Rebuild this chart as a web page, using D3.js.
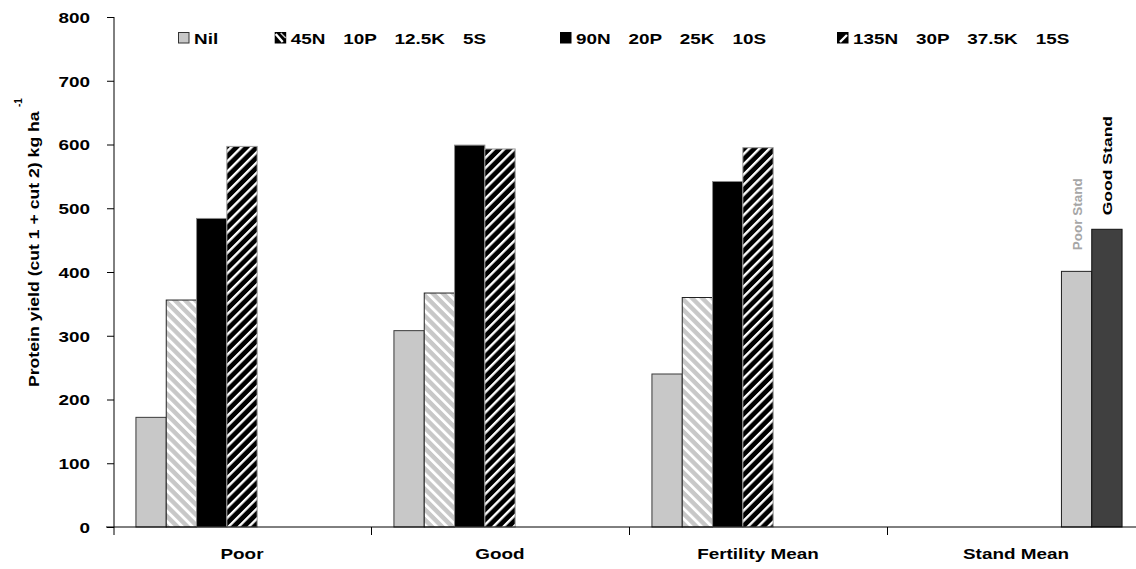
<!DOCTYPE html>
<html>
<head>
<meta charset="utf-8">
<script src="https://cdn.jsdelivr.net/npm/d3@7"></script>
<style>
  html, body { margin: 0; padding: 0; background: #ffffff; }
  svg { display: block; font-family: "Liberation Sans", Arial, sans-serif; }
  text { font-weight: bold; }
</style>
</head>
<body>
<svg id="chart" width="1136" height="569"></svg>
<script>
// ---------------- data ----------------
const categories = ["Poor", "Good", "Fertility Mean", "Stand Mean"];
const fertCategories = ["Poor", "Good", "Fertility Mean"];
const seriesNames = ["Nil", "45N 10P 12.5K 5S", "90N 20P 25K 10S", "135N 30P 37.5K 15S"];
const seriesKeys = ["nil", "n45", "n90", "n135"];
const nilValues = [172, 308, 240];
const n45Values = [356, 367, 360];
const n90Values = [484, 599, 542];
const n135Values = [597, 593, 595];
const standLabels = ["Poor Stand", "Good Stand"];
const standValues = [401, 467];
const yTicks = [0, 100, 200, 300, 400, 500, 600, 700, 800];
const yTitle = "Protein yield (cut 1 + cut 2) kg ha";
const yTitleSup = "-1";
// slots inside each category (Excel-style: 7 series, blanks left empty)
const slots = ["nil", "n45", "n90", "n135", "blank", "poorStand", "goodStand"];

// ---------------- layout ----------------
const svg = d3.select("#chart");
const W = 1136, H = 569;
const plotLeft = 113, bandW = 258;
const y0 = 527, yTop = 17;
const SX = 1.26; // horizontal stretch of the reference text
const FS = 15;

const x = d3.scaleBand().domain(categories).range([plotLeft, plotLeft + bandW * categories.length]).padding(0);
const xs = d3.scaleBand().domain(slots).range([0, x.bandwidth()]).paddingInner(0).paddingOuter(0.757);
const y = d3.scaleLinear().domain([0, 800]).range([y0, yTop]);

// ---------------- patterns ----------------
const defs = svg.append("defs");
function stripePattern(id, bg, fg, angle, period, stripe) {
  const p = defs.append("pattern").attr("id", id)
    .attr("patternUnits", "userSpaceOnUse")
    .attr("width", period).attr("height", period)
    .attr("patternTransform", `rotate(${angle})`);
  p.append("rect").attr("width", period).attr("height", period).attr("fill", bg);
  p.append("rect").attr("x", 0).attr("width", stripe).attr("height", period).attr("fill", fg);
}
stripePattern("pat45", "#c8c8c8", "#ffffff", -45, 7.2, 2.8);
stripePattern("pat135", "#000000", "#ffffff", 45, 7.2, 2.4);

const style = {
  nil: { fill: "#c8c8c8", stroke: "#3a3a3a" },
  n45: { fill: "url(#pat45)", stroke: "#222222" },
  n90: { fill: "#000000", stroke: "#8a8a8a" },
  n135: { fill: "url(#pat135)", stroke: "#9a9a9a" },
  poorStand: { fill: "#c8c8c8", stroke: "#222222" },
  goodStand: { fill: "#404040", stroke: "#111111" }
};

// ---------------- bars ----------------
const seriesValues = { nil: nilValues, n45: n45Values, n90: n90Values, n135: n135Values };
const barData = [];
fertCategories.forEach((c, i) => {
  seriesKeys.forEach(k => barData.push({ cat: c, key: k, value: seriesValues[k][i] }));
});
barData.push({ cat: "Stand Mean", key: "poorStand", value: standValues[0] });
barData.push({ cat: "Stand Mean", key: "goodStand", value: standValues[1] });

svg.append("g").selectAll("rect").data(barData).join("rect")
  .attr("x", d => x(d.cat) + xs(d.key))
  .attr("y", d => y(d.value))
  .attr("width", xs.bandwidth())
  .attr("height", d => y0 - y(d.value))
  .attr("fill", d => style[d.key].fill)
  .attr("stroke", d => style[d.key].stroke)
  .attr("stroke-width", 1);

// ---------------- axes ----------------
// Y axis
const yAxis = svg.append("g").attr("transform", `translate(${plotLeft + 1},0)`)
  .call(d3.axisLeft(y).tickValues(yTicks).tickSize(7).tickPadding(0).tickFormat(d3.format("d")));
yAxis.select(".domain").attr("d", `M0,${yTop}V${y0 + 8}`).attr("stroke", "#000");
yAxis.selectAll(".tick line").attr("stroke", "#000");
yAxis.selectAll(".tick text")
  .attr("x", 0).attr("dy", "0.36em")
  .attr("transform", `translate(-24,0) scale(${SX},1)`)
  .attr("font-size", FS).attr("font-family", "Liberation Sans, Arial, sans-serif")
  .attr("font-weight", "bold").attr("fill", "#000");

// X axis line + labels
const xAxis = svg.append("g").attr("transform", `translate(0,${y0})`)
  .call(d3.axisBottom(x).tickSize(0).tickPadding(0));
xAxis.select(".domain").attr("d", `M${plotLeft - 7},0H${W}`).attr("stroke", "#000");
xAxis.selectAll(".tick text")
  .attr("y", 0).attr("dy", "0.71em")
  .attr("transform", `translate(0,21) scale(${SX},1)`)
  .attr("font-size", FS).attr("font-family", "Liberation Sans, Arial, sans-serif")
  .attr("font-weight", "bold").attr("fill", "#000");
// category boundary ticks
svg.append("g").selectAll("line").data(categories.slice(1)).join("line")
  .attr("x1", d => x(d) + 0.5).attr("x2", d => x(d) + 0.5)
  .attr("y1", y0).attr("y2", y0 + 8)
  .attr("stroke", "#000");

// ---------------- y title ----------------
svg.append("text")
  .attr("transform", `translate(39,387) rotate(-90) scale(1.26,1)`)
  .attr("text-anchor", "start")
  .attr("font-size", 14)
  .text(yTitle);
svg.append("text")
  .attr("transform", `translate(22,107) rotate(-90)`)
  .attr("text-anchor", "start")
  .attr("font-size", 10)
  .text(yTitleSup);

// ---------------- stand labels ----------------
const standKeys = ["poorStand", "goodStand"];
const standColors = ["#a6a6a6", "#000000"];
const standGaps = [21, 14];
const standStretch = [1, 1.3];
standKeys.forEach((k, i) => {
  const cx = x("Stand Mean") + xs(k) + xs.bandwidth() / 2;
  svg.append("text")
    .attr("transform", `translate(${cx + 5},${y(standValues[i]) - standGaps[i]}) rotate(-90) scale(${standStretch[i]},1)`)
    .attr("text-anchor", "start")
    .attr("font-size", 13.5)
    .attr("fill", standColors[i])
    .text(standLabels[i]);
});

// ---------------- legend ----------------
const legendX = [194, 290.7, 576, 853];
const legendY = 44;
const lg = svg.append("g");
seriesKeys.forEach((k, i) => {
  const sx0 = legendX[i] - 16;
  const sw = 11.5;
  const g = lg.append("g");
  if (k === "nil") {
    g.append("rect").attr("x", sx0 + 0.5).attr("y", legendY - 12 + 0.5).attr("width", sw - 1).attr("height", sw - 1)
      .attr("fill", "#c8c8c8").attr("stroke", "#333");
  } else if (k === "n45") {
    g.append("rect").attr("x", sx0).attr("y", legendY - 12).attr("width", sw).attr("height", sw).attr("fill", "#000");
    g.append("line").attr("x1", sx0 + 1).attr("y1", legendY - 10).attr("x2", sx0 + 8).attr("y2", legendY - 2)
      .attr("stroke", "#fff").attr("stroke-width", 2.4);
    g.append("line").attr("x1", sx0 + 6).attr("y1", legendY - 11).attr("x2", sx0 + 11).attr("y2", legendY - 6)
      .attr("stroke", "#c8c8c8").attr("stroke-width", 1.5);
  } else if (k === "n90") {
    g.append("rect").attr("x", sx0).attr("y", legendY - 12).attr("width", sw).attr("height", sw).attr("fill", "#000");
  } else {
    g.append("rect").attr("x", sx0).attr("y", legendY - 12).attr("width", sw).attr("height", sw).attr("fill", "#000");
    g.append("line").attr("x1", sx0 + 3).attr("y1", legendY - 2).attr("x2", sx0 + 10).attr("y2", legendY - 9)
      .attr("stroke", "#fff").attr("stroke-width", 2.4);
  }
  g.append("text")
    .attr("transform", `translate(${legendX[i]},${legendY}) scale(${SX},1)`)
    .attr("font-size", FS)
    .style("white-space", "pre")
    .style("word-spacing", "10.1px")
    .text(seriesNames[i]);
});
</script>
</body>
</html>
